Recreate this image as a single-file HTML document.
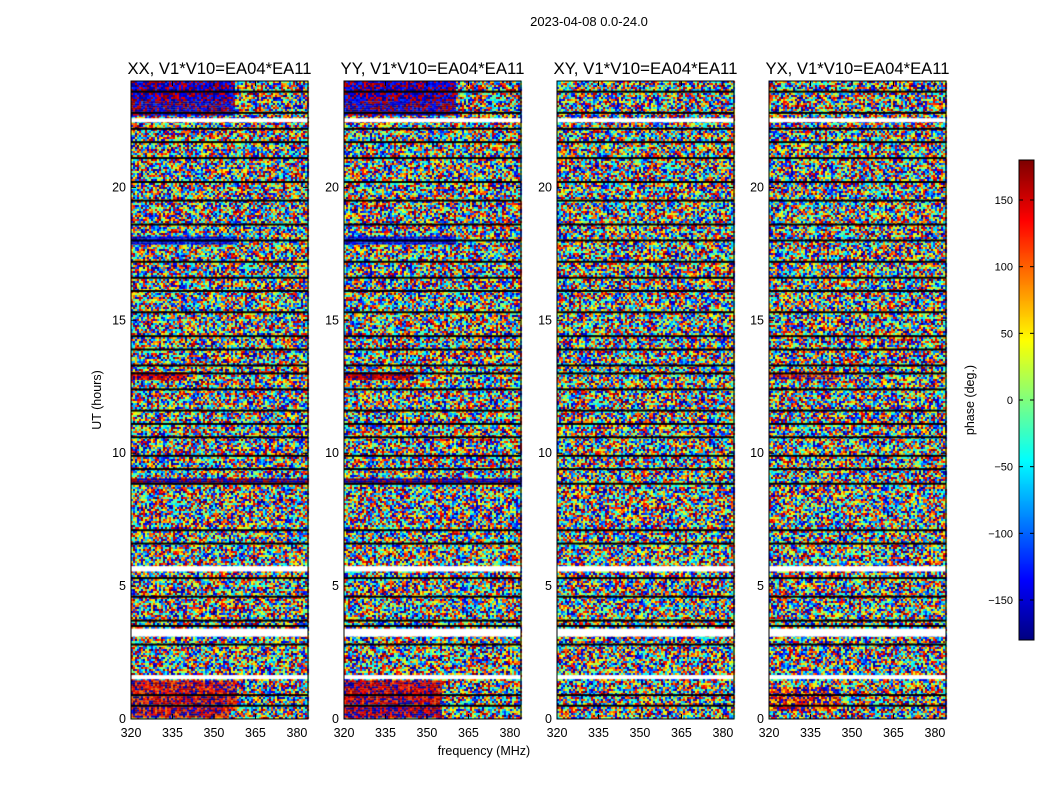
<!DOCTYPE html>
<html><head><meta charset="utf-8"><style>
body{margin:0;background:#fff;width:1050px;height:800px;overflow:hidden;position:relative;font-family:"Liberation Sans",sans-serif}
canvas,svg{position:absolute;left:0;top:0}
</style></head><body>
<canvas id="hm" width="1050" height="800"></canvas>
<svg id="ax" width="1050" height="800"></svg>
<script>
// ---- data ----
const panelTitles = ["XX, V1*V10=EA04*EA11","YY, V1*V10=EA04*EA11","XY, V1*V10=EA04*EA11","YX, V1*V10=EA04*EA11"];
const panelLeft = [131,344,557,769];
const yTicks = [0,5,10,15,20];
const xTicks = [320,335,350,365,380];
const cbTicks = [-150,-100,-50,0,50,100,150];
// white gaps (hours)
const gapStart = [1.5,3.1,5.55,22.45];
const gapEnd   = [1.65,3.4,5.75,22.6];
// black lines (hours)
const blackLines = [0.5,0.9,2.8,3.5,3.7,4.6,5.3,6.6,7.1,8.85,9.4,9.9,10.6,11.1,11.6,12.4,13.0,13.3,13.9,14.4,15.3,16.1,16.6,17.2,18.0,18.6,19.5,20.2,21.1,21.7,22.2,22.8,23.6];
// coherent patches: panel, t0, t1, f0, f1, phase, spread
const patchPanel = [0,0,0,0,0,0,0, 1,1,1,1,1,1,1, 3,3];
const patchT0    = [0.1,0.6,22.7,12.75,8.85,17.9,23.3, 0.1,0.6,22.7,12.75,8.85,17.9,23.3, 0.3,12.8];
const patchT1    = [0.5,1.45,23.3,13.05,9.05,18.15,24, 0.5,1.45,23.3,13.05,9.05,18.15,24, 1.2,13.0];
const patchF0    = [320,320,320,320,320,320,320, 320,320,320,320,320,320,320, 320,320];
const patchF1    = [355,358,357,340,384,358,357, 355,355,360,345,384,360,360, 345,345];
const patchVal   = [160,150,-160,150,-175,-140,-165, 170,160,-165,160,-170,-140,-165, 140,150];
const patchSpread= [140,130,110,90,60,80,110, 110,110,100,90,60,80,110, 200,160];
// ---- layout ----
const PW=177, yTop=81, yBot=719, tMax=24, fMin=320, fMax=384;
const yS=t=>yBot-(t/tMax)*(yBot-yTop);
const xS=(p,f)=>panelLeft[p]+(f-fMin)/(fMax-fMin)*PW;
function jet(v){const x=(v+180)/360;const r=Math.min(1,Math.max(0,1.5-Math.abs(4*x-3))),g=Math.min(1,Math.max(0,1.5-Math.abs(4*x-2))),b=Math.min(1,Math.max(0,1.5-Math.abs(4*x-1)));return `rgb(${r*255|0},${g*255|0},${b*255|0})`;}
function wrap(v){while(v>180)v-=360;while(v<-180)v+=360;return v;}
const ctx=document.getElementById('hm').getContext('2d');
let seed=12345;function rnd(){seed=(seed*1103515245+12345)&0x7fffffff;return seed/0x7fffffff;}
// texture (noise appearance)
for(let p=0;p<4;p++){for(let y=yTop;y<yBot;y+=2){for(let x=panelLeft[p];x<panelLeft[p]+PW;x+=2){ctx.fillStyle=jet(rnd()*360-180);ctx.fillRect(x,y,2,2);}}}
for(let i=0;i<patchVal.length;i++){const p=patchPanel[i];for(let y=yS(patchT1[i]);y<yS(patchT0[i]);y+=2){for(let x=xS(p,patchF0[i]);x<xS(p,patchF1[i]);x+=2){const v=wrap(patchVal[i]+(rnd()-0.5)*patchSpread[i]);ctx.fillStyle=jet(v);ctx.fillRect(x,y,2,2);}}}
for(let p=0;p<4;p++){ctx.fillStyle='#fff';for(let i=0;i<gapStart.length;i++){const y0=yS(gapEnd[i]),y1=yS(gapStart[i]);ctx.fillRect(panelLeft[p],y0,PW,y1-y0);}
 ctx.fillStyle='#000';blackLines.forEach(t=>ctx.fillRect(panelLeft[p],yS(t)-1,PW,2));}
// colorbar
for(let y=160;y<640;y++){ctx.fillStyle=jet(180-(y-160)/480*360);ctx.fillRect(1019,y,15,1);}
// ---- axes ----
const svgRoot=document.getElementById('ax');const NS='http://www.w3.org/2000/svg';
function el(tag,a,txt){const e=document.createElementNS(NS,tag);for(const k in a)e.setAttribute(k,a[k]);if(txt!==undefined)e.textContent=txt;svgRoot.appendChild(e);return e;}
let e=el('text',{x:589,y:26,'font-size':13,'text-anchor':'middle'},'2023-04-08 0.0-24.0');


for(let p=0;p<4;p++){
 const L=panelLeft[p];
 e=el('rect',{x:L,y:yTop,width:PW,height:yBot-yTop,fill:'none',stroke:'#000','stroke-width':1});
 
 
 e=el('text',{x:L+PW/2,y:74,'font-size':16.5,'text-anchor':'middle',textLength:184,lengthAdjust:'spacingAndGlyphs'},panelTitles[p]);
 
 
 yTicks.forEach(t=>{const y=yS(t);el('line',{x1:L,x2:L+5,y1:y,y2:y,stroke:'#000'});el('line',{x1:L+PW-5,x2:L+PW,y1:y,y2:y,stroke:'#000'});
  e=el('text',{x:L-5,y:y+4,'font-size':12.5,'text-anchor':'end'},t);
  
  });
 xTicks.forEach(f=>{const x=xS(p,f);el('line',{x1:x,x2:x,y1:yBot,y2:yBot-5,stroke:'#000'});el('line',{x1:x,x2:x,y1:yTop,y2:yTop+5,stroke:'#000'});
  e=el('text',{x:x,y:737,'font-size':12.5,'text-anchor':'middle'},f);
  
  });
}
e=el('text',{x:484,y:755,'font-size':12.5,'text-anchor':'middle'},'frequency (MHz)');


e=el('text',{x:101,y:400,'font-size':12.5,'text-anchor':'middle',transform:'rotate(-90 101 400)'},'UT (hours)');


e=el('rect',{x:1019,y:160,width:15,height:480,fill:'none',stroke:'#000'});


cbTicks.forEach(v=>{const y=160+(180-v)/360*480;el('line',{x1:1019,x2:1023,y1:y,y2:y,stroke:'#000'});el('line',{x1:1030,x2:1034,y1:y,y2:y,stroke:'#000'});
 e=el('text',{x:1013,y:y+4,'font-size':11,'text-anchor':'end'},v<0?'\u2212'+(-v):v);
 
 });
e=el('text',{x:974,y:400,'font-size':12.5,'text-anchor':'middle',transform:'rotate(-90 974 400)'},'phase (deg.)');


</script>
</body></html>
